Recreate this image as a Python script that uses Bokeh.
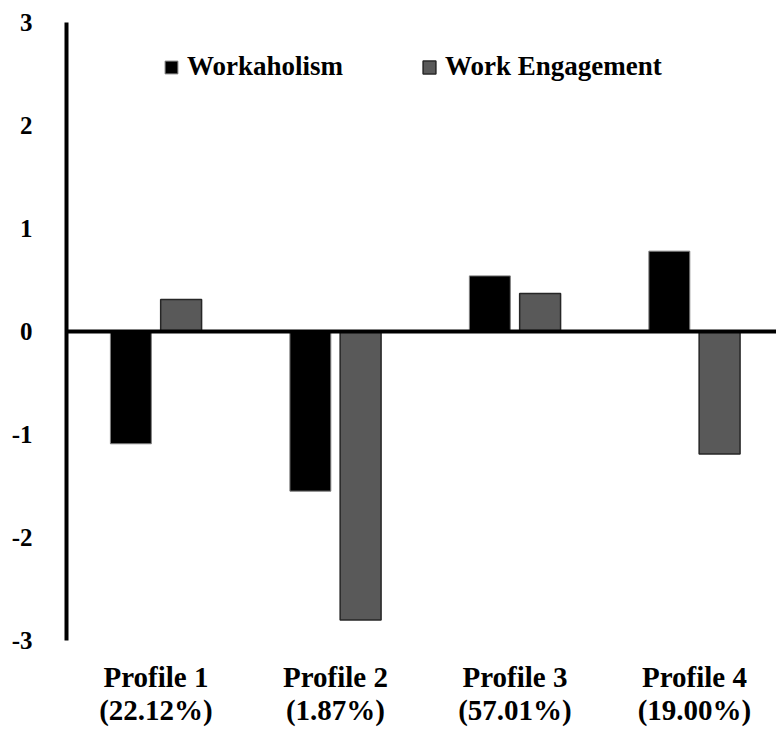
from bokeh.plotting import figure
from bokeh.models import ColumnDataSource, Span, FixedTicker
from bokeh.embed import file_html
from bokeh.resources import INLINE

profiles = ["Profile 1", "Profile 2", "Profile 3", "Profile 4"]
shares = ["(22.12%)", "(1.87%)", "(57.01%)", "(19.00%)"]
workaholism = [-1.09, -1.55, 0.54, 0.78]
engagement = [0.31, -2.80, 0.37, -1.19]
y_ticks = [-3, -2, -1, 0, 1, 2, 3]

FONT = "serif"
idx = list(range(len(profiles)))
offset = 0.14
bar_w = 0.228

src = ColumnDataSource(dict(
    xw=[i - offset for i in idx],
    xe=[i + offset for i in idx],
    w=workaholism,
    e=engagement,
))

p = figure(width=776, height=734, output_backend="svg", toolbar_location=None,
           x_range=(-0.4986, 3.457), y_range=(-3, 3),
           min_border_left=66, min_border_right=0, min_border_top=22,
           min_border_bottom=94)

p.vbar(x="xw", top="w", bottom=0, width=bar_w, source=src,
       fill_color="black", line_color="#7f7f7f", line_width=1,
       legend_label="Workaholism")
p.vbar(x="xe", top="e", bottom=0, width=bar_w, source=src,
       fill_color="#595959", line_color="#262626", line_width=1.5,
       legend_label="Work Engagement")

p.add_layout(Span(location=0, dimension="width", line_color="black", line_width=4))

p.xgrid.visible = False
p.ygrid.visible = False
p.outline_line_color = None
p.background_fill_color = "white"
p.border_fill_color = "white"

# y axis
p.yaxis.ticker = FixedTicker(ticks=y_ticks)
p.yaxis.major_label_overrides = {t: str(t) for t in y_ticks}
p.yaxis.axis_line_width = 4
p.yaxis.axis_line_color = "black"
p.yaxis.major_tick_line_color = None
p.yaxis.minor_tick_line_color = None
p.yaxis.major_label_text_font = FONT
p.yaxis.major_label_text_font_style = "bold"
p.yaxis.major_label_text_font_size = "25px"
p.yaxis.major_label_text_color = "black"
p.yaxis.major_label_standoff = 28

# x axis
p.xaxis.ticker = FixedTicker(ticks=idx)
p.xaxis.major_label_overrides = {i: f"{profiles[i]}\n{shares[i]}" for i in idx}
p.xaxis.axis_line_color = None
p.xaxis.major_tick_line_color = None
p.xaxis.minor_tick_line_color = None
p.xaxis.major_label_text_font = FONT
p.xaxis.major_label_text_font_style = "bold"
p.xaxis.major_label_text_font_size = "29px"
p.xaxis.major_label_text_line_height = 1.05
p.xaxis.major_label_text_color = "black"
p.xaxis.major_label_standoff = 14

# legend
lg = p.legend[0]
lg.orientation = "horizontal"
lg.location = (97, 558)
lg.border_line_color = None
lg.background_fill_alpha = 0
lg.padding = 0
lg.margin = 0
lg.spacing = 78
lg.glyph_width = 16
lg.glyph_height = 16
lg.label_standoff = 8
lg.label_text_font = FONT
lg.label_text_font_style = "bold"
lg.label_text_font_size = "27px"
lg.label_text_color = "black"

open("out.html", "w").write(file_html(p, INLINE))
